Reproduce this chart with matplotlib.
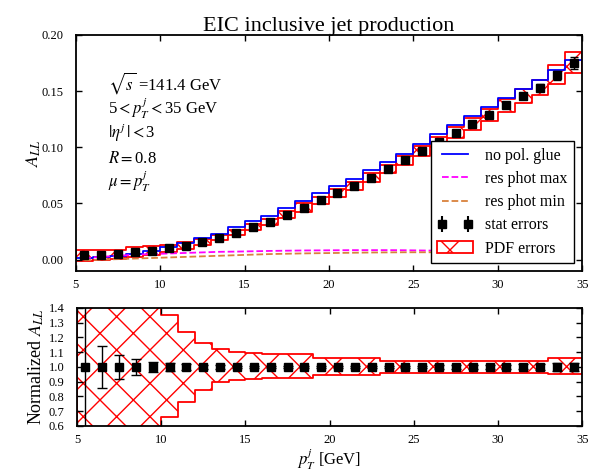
import numpy as np
import matplotlib
matplotlib.use("Agg")
import matplotlib.pyplot as plt
from matplotlib.patches import Patch

plt.rcParams["font.family"] = "serif"
plt.rcParams["font.serif"] = ["Liberation Serif", "DejaVu Serif"]
plt.rcParams["mathtext.fontset"] = "stix"

# --- data ---
bin_edges = np.arange(5, 36, 1)
bin_centers = bin_edges[:-1] + 0.5

# central A_LL (stat points)
all_central = [0.004, 0.0045, 0.005, 0.007, 0.008, 0.010, 0.0125, 0.0155, 0.0194, 0.0238,
               0.0289, 0.0333, 0.0402, 0.0461, 0.0527, 0.0592, 0.0652, 0.073, 0.0804, 0.0884,
               0.0967, 0.1048, 0.1128, 0.121, 0.1286, 0.1375, 0.1455, 0.153, 0.164, 0.1747]
# no polarized glue
no_pol_glue = [0.0015, 0.002, 0.003, 0.005, 0.008, 0.0115, 0.0145, 0.019, 0.023, 0.029,
               0.034, 0.039, 0.046, 0.052, 0.059, 0.066, 0.072, 0.080, 0.087, 0.094,
               0.103, 0.1116, 0.1196, 0.1277, 0.136, 0.144, 0.152, 0.160, 0.169, 0.178]
# resolved photon max / min
res_phot_max = [0.0015, 0.0025, 0.0035, 0.0045, 0.005, 0.0055, 0.006, 0.0065, 0.007, 0.0072,
                0.0075, 0.0078, 0.008, 0.0082, 0.0083, 0.0084, 0.0085, 0.0085, 0.0085, 0.0084,
                0.0082, 0.008, 0.0077, 0.0073, 0.007, 0.0066, 0.0062, 0.0058, 0.0053, 0.0048]
res_phot_min = [-0.0005, 0.0, 0.0005, 0.001, 0.0015, 0.002, 0.0025, 0.003, 0.0035, 0.004,
                0.0045, 0.005, 0.0053, 0.0056, 0.0058, 0.006, 0.0062, 0.0064, 0.0065, 0.0066,
                0.0066, 0.0066, 0.0065, 0.0064, 0.0062, 0.006, 0.0058, 0.0056, 0.0053, 0.005]
# relative stat errors
stat_rel = [0.6, 0.14, 0.08, 0.055, 0.037, 0.025, 0.018, 0.014, 0.012, 0.01,
            0.009, 0.008, 0.008, 0.008, 0.008, 0.008, 0.008, 0.009, 0.009, 0.01,
            0.01, 0.011, 0.012, 0.013, 0.014, 0.015, 0.017, 0.02, 0.025, 0.03]
# relative PDF errors (up / down)
pdf_rel_up = [1.2, 1.0, 0.8, 0.6, 0.5, 0.35, 0.24, 0.165, 0.12, 0.104,
              0.093, 0.09, 0.088, 0.088, 0.059, 0.059, 0.059, 0.059, 0.043, 0.043,
              0.043, 0.043, 0.043, 0.043, 0.043, 0.043, 0.043, 0.043, 0.059, 0.059]
pdf_rel_dn = [1.2, 1.0, 0.8, 0.6, 0.5, 0.337, 0.24, 0.156, 0.10, 0.09,
              0.08, 0.078, 0.077, 0.077, 0.054, 0.054, 0.054, 0.054, 0.043, 0.043,
              0.043, 0.043, 0.043, 0.043, 0.043, 0.043, 0.043, 0.043, 0.047, 0.047]

central = np.array(all_central)
stat_abs = central * np.array(stat_rel)
pdf_hi = central * (1 + np.array(pdf_rel_up))
pdf_lo = central * (1 - np.array(pdf_rel_dn))

def ext(a):
    # repeat last value so step='post' covers the final bin
    a = np.asarray(a)
    return np.append(a, a[-1])

fig = plt.figure(figsize=(6.02, 4.72), dpi=100)
ax1 = fig.add_axes([0.126, 0.426, 0.841, 0.500])
ax2 = fig.add_axes([0.128, 0.0975, 0.839, 0.250])

orange = "#d9813c"

# --- top panel ---
ax1.fill_between(bin_edges, ext(pdf_lo), ext(pdf_hi), step="post", facecolor="none",
                 edgecolor="red", hatch="x", lw=1.3)
ax1.step(bin_edges, ext(no_pol_glue), where="post", color="blue", lw=1.3)
ax1.plot(bin_centers, res_phot_max, color="magenta", ls="--", lw=1.3)
ax1.plot(bin_centers, res_phot_min, color=orange, ls="--", lw=1.3)
ax1.errorbar(bin_centers, central, yerr=stat_abs, fmt="s", color="black", ms=6,
             capsize=3, elinewidth=1, capthick=1)

ax1.set_xlim(5, 35)
ax1.set_ylim(-0.01, 0.20)
ax1.set_yticks([0.0, 0.05, 0.10, 0.15, 0.20])
ax1.set_yticklabels(["0.00", "0.05", "0.10", "0.15", "0.20"])
ax1.set_xticks([5, 10, 15, 20, 25, 30, 35])
ax1.set_ylabel(r"$A_{LL}$", fontsize=13)
ax1.yaxis.set_label_coords(-0.064, 0.5)
ax1.set_title("EIC inclusive jet production", fontsize=16, pad=3)

info = [r"$\sqrt{s}$ =141.4 GeV", r"5$<p_T^j<$35 GeV", r"$|\eta^j\,|<$3",
        r"$R=$0.8", r"$\mu=p_T^j$"]
for i, s in enumerate(info):
    ax1.text(0.063, 0.77 - i * 0.104, s, transform=ax1.transAxes, fontsize=12,
             va="baseline", ha="left")

handles = [
    plt.Line2D([], [], color="blue", lw=1.3),
    plt.Line2D([], [], color="magenta", ls="--", lw=1.3),
    plt.Line2D([], [], color=orange, ls="--", lw=1.3),
]
eb = ax1.errorbar([], [], yerr=[], fmt="s", color="black", ms=6, capsize=3)
handles.append(eb)
handles.append(Patch(facecolor="none", edgecolor="red", hatch="x", lw=1.3))
labels = ["no pol. glue", "res phot max", "res phot min", "stat errors", "PDF errors"]
leg = ax1.legend(handles, labels, loc="lower right", fontsize=11.5, numpoints=2,
                 fancybox=False, framealpha=1, edgecolor="black", borderaxespad=0.5,
                 handlelength=2.2, labelspacing=0.45)
leg.get_frame().set_linewidth(1.0)

# --- bottom panel (normalized) ---
ax2.fill_between(bin_edges, ext(1 - np.array(pdf_rel_dn)), ext(1 + np.array(pdf_rel_up)),
                 step="post", facecolor="none", edgecolor="red", hatch="x", lw=1.3)
ax2.errorbar(bin_centers, np.ones_like(central), yerr=stat_rel, fmt="s", color="black",
             ms=6, capsize=3.5, elinewidth=1, capthick=1)
ax2.set_xlim(5, 35)
ax2.set_ylim(0.6, 1.4)
ax2.set_yticks(np.arange(0.6, 1.41, 0.1))
ax2.set_yticklabels([f"{v:.1f}" for v in np.arange(0.6, 1.41, 0.1)])
ax2.set_xticks([5, 10, 15, 20, 25, 30, 35])
ax2.set_ylabel(r"Normalized $A_{LL}$", fontsize=13)
ax2.yaxis.set_label_coords(-0.062, 0.5)
ax2.set_xlabel(r"$p_T^j$ [GeV]", fontsize=12, labelpad=0)

for ax in (ax1, ax2):
    ax.tick_params(direction="in", top=True, right=True, length=4, width=1,
                   labelsize=9)
    ax.tick_params(axis="y", pad=9)
    ax.tick_params(axis="x", pad=6)
    for sp in ax.spines.values():
        sp.set_linewidth(1.3)

fig.savefig("out.png", dpi=100)
